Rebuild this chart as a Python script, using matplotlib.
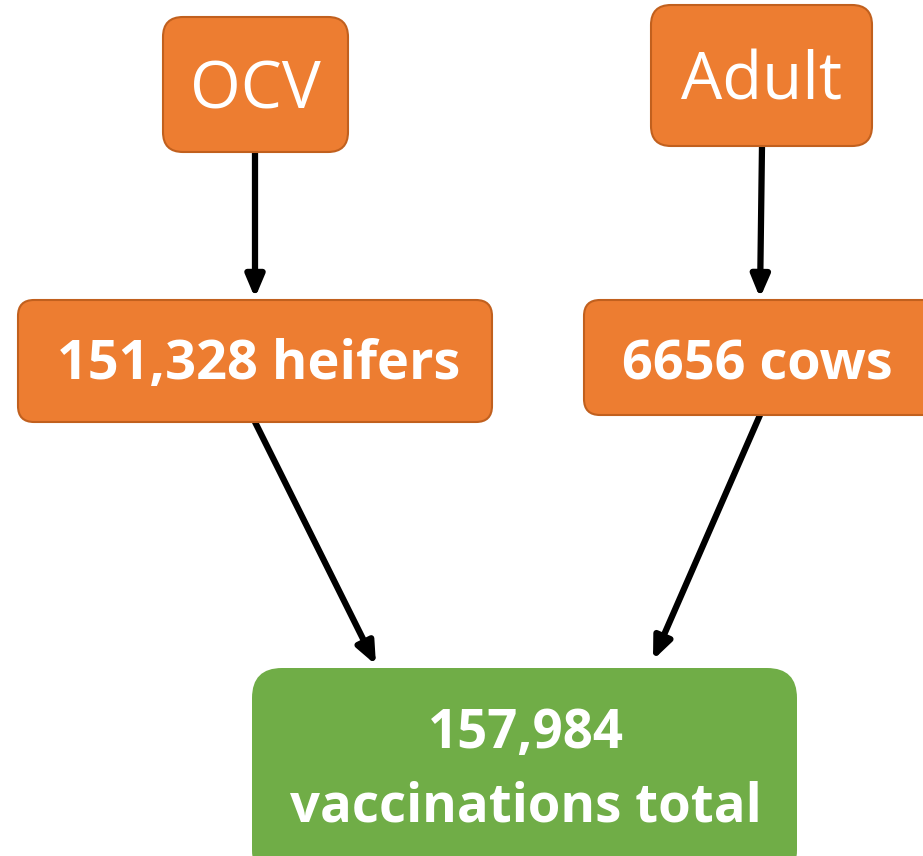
import matplotlib
matplotlib.use("Agg")
from matplotlib import pyplot as plt
from matplotlib.patches import FancyBboxPatch

# flowchart content
programs = ["OCV", "Adult"]
group_counts = [151328, 6656]
group_names = ["heifers", "cows"]
group_labels = ["151,328 heifers", "6656 cows"]
total_lines = ["157,984", "vaccinations total"]

ORANGE = "#ED7D31"
EDGE = "#C1601E"
GREEN = "#70AD47"

W, H = 923, 856
fig = plt.figure(figsize=(W / 100, H / 100), dpi=100)
ax = fig.add_axes([0, 0, 1, 1])
ax.set_xlim(0, W)
ax.set_ylim(H, 0)
ax.axis("off")


def box(x0, y0, x1, y1, color, edge=None, r=20):
    p = FancyBboxPatch((x0, y0), x1 - x0, y1 - y0,
                       boxstyle=f"round,pad=0,rounding_size={r}",
                       fc=color, ec=edge if edge else "none",
                       lw=1.5, zorder=2, clip_on=False)
    ax.add_patch(p)


def arrow(x0, y0, x1, y1):
    ax.annotate("", xy=(x1, y1), xytext=(x0, y0),
                arrowprops=dict(arrowstyle="-|>,head_length=1.3,head_width=0.55",
                                color="black", lw=4.5, shrinkA=0, shrinkB=0),
                zorder=1)


# top boxes (programs)
top_boxes = [(163, 17, 348, 152), (651, 5, 872, 146)]
for (x0, y0, x1, y1), lab in zip(top_boxes, programs):
    box(x0, y0, x1, y1, ORANGE, EDGE, r=20)
    ax.text((x0 + x1) / 2, (y0 + y1) / 2 + 7, lab, color="white",
            fontsize=47, family="Open Sans", ha="center", va="center", zorder=3)

# middle boxes (animals)
mid_boxes = [(18, 300, 492, 422), (584, 300, 940, 415)]
for (x0, y0, x1, y1), lab in zip(mid_boxes, group_labels):
    box(x0, y0, x1, y1, ORANGE, EDGE, r=16)
    cx = (x0 + min(x1, 923)) / 2 + 4
    ax.text(cx, 365, lab, color="white", fontweight="bold",
            fontsize=39, family="Open Sans", ha="center", va="center", zorder=3)

# total box
box(252, 668, 797, 880, GREEN, None, r=30)
for y, line in zip([734, 807], total_lines):
    ax.text(526, y, line, color="white", fontweight="bold",
            fontsize=38, family="Open Sans", ha="center", va="center", zorder=3)

# arrows
arrow(255, 152, 255, 298)
arrow(762, 146, 760, 298)
arrow(255, 422, 376, 665)
arrow(760, 415, 653, 660)

fig.savefig("out.png", dpi=100)
